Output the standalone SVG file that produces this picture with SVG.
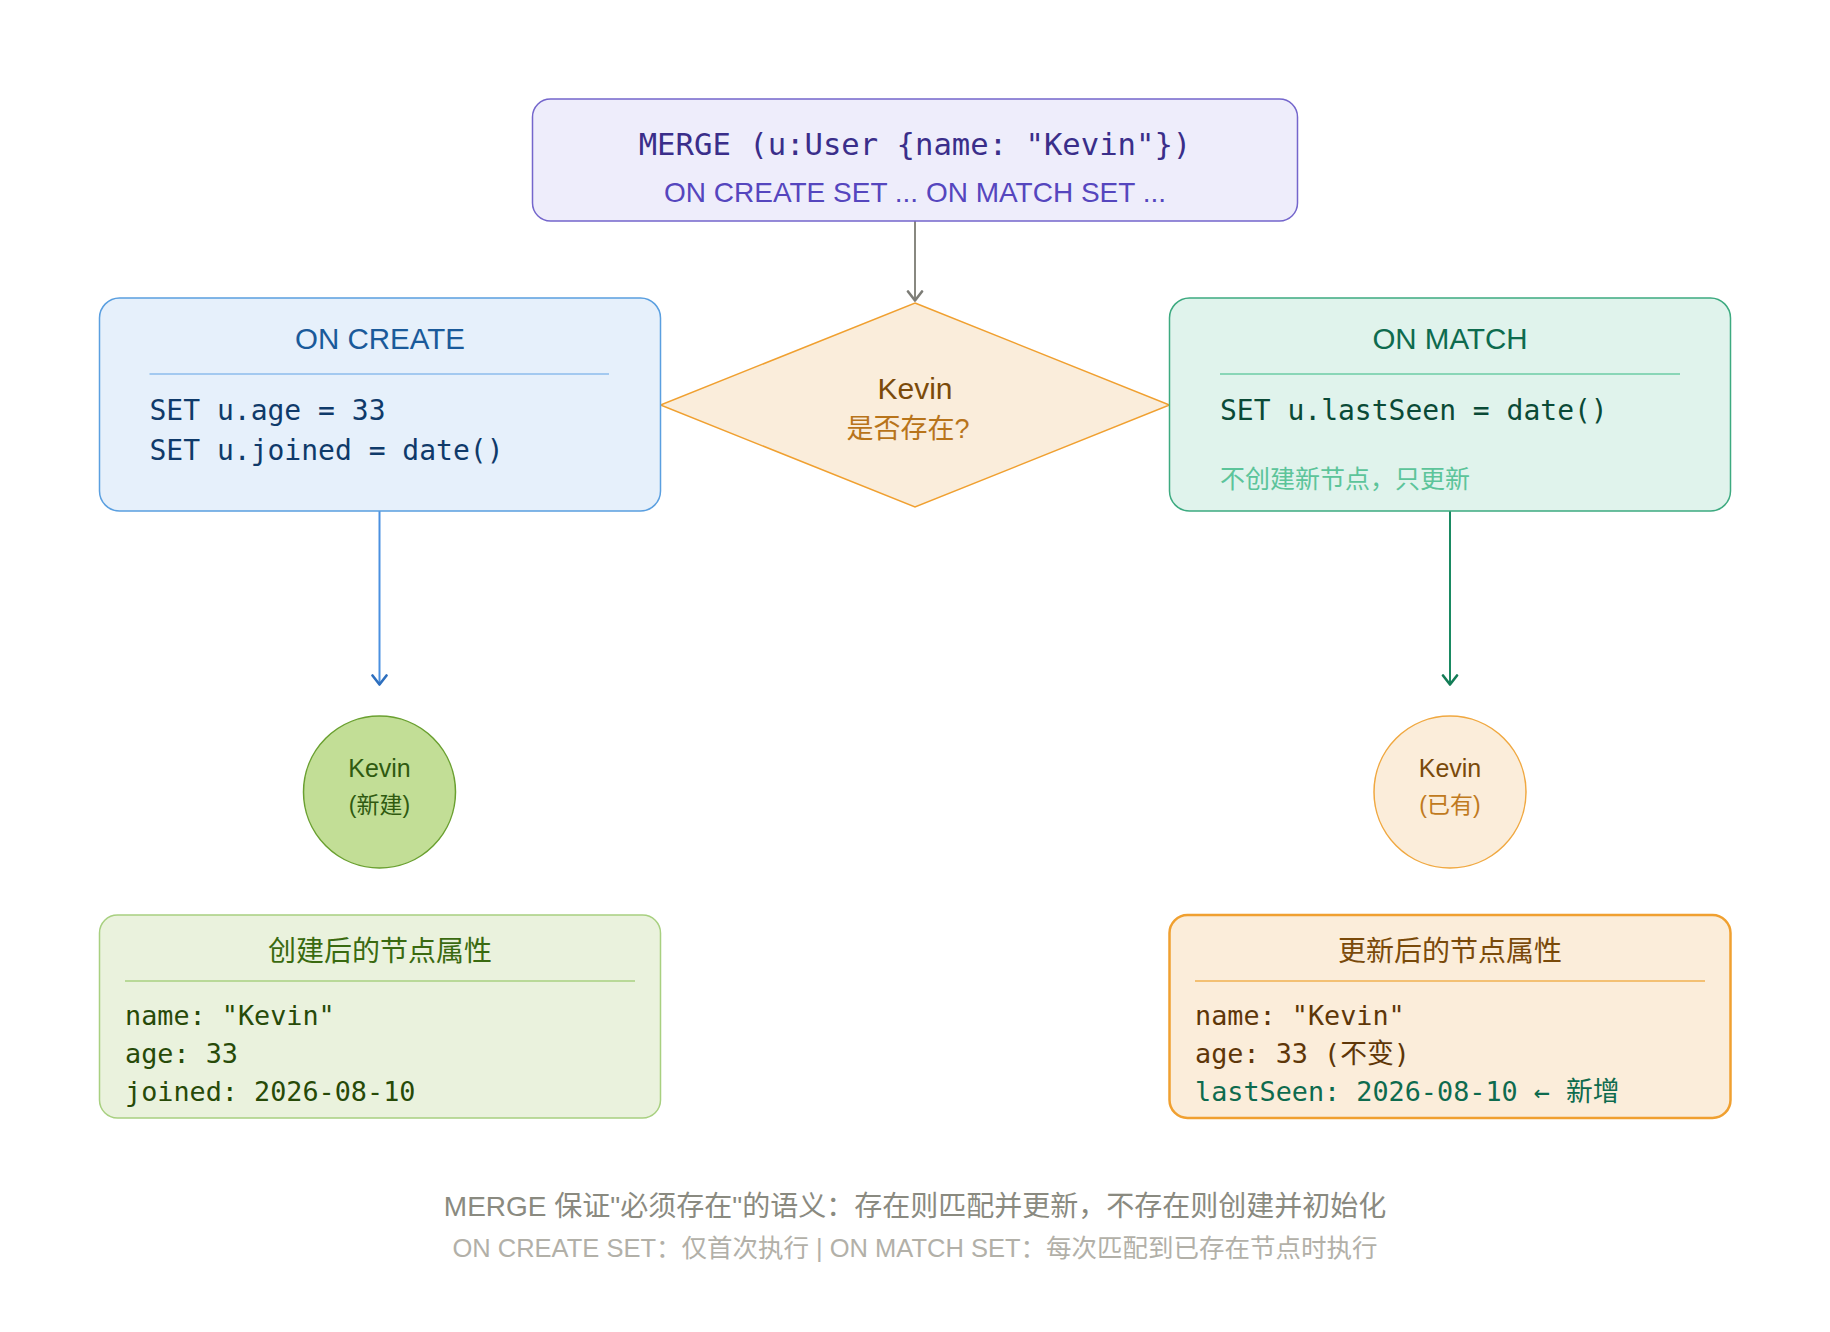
<svg xmlns="http://www.w3.org/2000/svg" width="1830" height="1332" viewBox="0 0 1830 1332">
<style>
.sans{font-family:"Liberation Sans","Noto Sans CJK SC",sans-serif;}
.mono{font-family:"DejaVu Sans Mono","Noto Sans CJK SC",monospace;}
text{dominant-baseline:central;}
.c{text-anchor:middle;}
</style>
<defs>
<marker id="ag" viewBox="0 0 18 14" refX="9" refY="11.5" markerWidth="18" markerHeight="14" markerUnits="userSpaceOnUse">
<path d="M2,2 L9,11 L16,2" fill="none" stroke="#7C7C76" stroke-width="2.6" stroke-linecap="round" stroke-linejoin="round"/>
</marker>
<marker id="ab" viewBox="0 0 18 14" refX="9" refY="11.5" markerWidth="18" markerHeight="14" markerUnits="userSpaceOnUse">
<path d="M2,2 L9,11 L16,2" fill="none" stroke="#2E6FBE" stroke-width="2.6" stroke-linecap="round" stroke-linejoin="round"/>
</marker>
<marker id="at" viewBox="0 0 18 14" refX="9" refY="11.5" markerWidth="18" markerHeight="14" markerUnits="userSpaceOnUse">
<path d="M2,2 L9,11 L16,2" fill="none" stroke="#137C56" stroke-width="2.6" stroke-linecap="round" stroke-linejoin="round"/>
</marker>
</defs>
<rect width="1830" height="1332" fill="#ffffff"/>

<g id="connectors" fill="none" stroke-width="2">
<line x1="915" y1="221" x2="915" y2="301" stroke="#888880" marker-end="url(#ag)"/>
<line x1="379.5" y1="511" x2="379.5" y2="685" stroke="#4A90E0" marker-end="url(#ab)"/>
<line x1="1450" y1="511" x2="1450" y2="685" stroke="#1A8A62" marker-end="url(#at)"/>
</g>

<g id="merge">
<rect x="532.5" y="99" width="765" height="122" rx="18" fill="#EEEDFB" stroke="#7466CC" stroke-width="1.5"/>
<text x="915" y="144" class="mono c" font-size="30.6" fill="#3A2E8A">MERGE (u:User {name: "Kevin"})</text>
<text x="915" y="192" class="sans c" font-size="28" fill="#5546BE">ON CREATE SET ... ON MATCH SET ...</text>
</g>

<g id="decision">
<polygon points="915,303 1169.5,405 915,507 660.5,405" fill="#FAEDDB" stroke="#F0A030" stroke-width="1.5"/>
<text x="915" y="388" class="sans c" font-size="30" fill="#7A4A0A">Kevin</text>
<text x="908" y="429" class="sans c" font-size="27" fill="#B8741A">是否存在?</text>
</g>

<g id="on-create">
<rect x="99.5" y="298" width="561" height="213" rx="20" fill="#E6F0FB" stroke="#5A9FE0" stroke-width="1.5"/>
<text x="380" y="338.5" class="sans c" font-size="29.5" fill="#1A5A9A">ON CREATE</text>
<line x1="149.5" y1="374" x2="609" y2="374" stroke="#8CBCEC" stroke-width="1.5"/>
<text x="149.5" y="410" class="mono" font-size="28" fill="#0F3A6A">SET u.age = 33</text>
<text x="149.5" y="450.5" class="mono" font-size="28" fill="#0F3A6A">SET u.joined = date()</text>
</g>

<g id="on-match">
<rect x="1169.5" y="298" width="561" height="213" rx="20" fill="#E0F3EC" stroke="#3DAA80" stroke-width="1.5"/>
<text x="1450" y="338.5" class="sans c" font-size="29.5" fill="#0E6B4E">ON MATCH</text>
<line x1="1220" y1="374" x2="1680" y2="374" stroke="#6CCCA6" stroke-width="1.5"/>
<text x="1220" y="410" class="mono" font-size="28" fill="#0A4A36">SET u.lastSeen = date()</text>
<text x="1220" y="478.5" class="sans" font-size="25" fill="#5CC49A">不创建新节点，只更新</text>
</g>

<g id="node-new">
<circle cx="379.5" cy="792" r="76" fill="#C2DE96" stroke="#6AA030" stroke-width="1.5"/>
<text x="379.5" y="768" class="sans c" font-size="25" fill="#2F5A10">Kevin</text>
<text x="379.5" y="805" class="sans c" font-size="23" fill="#2F5A10">(新建)</text>
</g>

<g id="node-existing">
<circle cx="1450" cy="792" r="76" fill="#FBEDDA" stroke="#F0A840" stroke-width="1.5"/>
<text x="1450" y="768" class="sans c" font-size="25" fill="#7A4A0A">Kevin</text>
<text x="1450" y="805" class="sans c" font-size="23" fill="#C07A20">(已有)</text>
</g>

<g id="props-created">
<rect x="99.5" y="915" width="561" height="203" rx="18" fill="#EAF2DD" stroke="#A8D080" stroke-width="1.5"/>
<text x="380" y="951" class="sans c" font-size="28" fill="#3A6A10">创建后的节点属性</text>
<line x1="125" y1="981" x2="635" y2="981" stroke="#A8D080" stroke-width="1.5"/>
<text x="125" y="1015" class="mono" font-size="26.8" fill="#274A08">name: "Kevin"</text>
<text x="125" y="1053" class="mono" font-size="26.8" fill="#274A08">age: 33</text>
<text x="125" y="1091" class="mono" font-size="26.8" fill="#274A08">joined: 2026-08-10</text>
</g>

<g id="props-updated">
<rect x="1169.5" y="915" width="561" height="203" rx="18" fill="#FBEDDA" stroke="#F0A030" stroke-width="2.5"/>
<text x="1450" y="951" class="sans c" font-size="28" fill="#7A4A0A">更新后的节点属性</text>
<line x1="1195" y1="981" x2="1705" y2="981" stroke="#F0B050" stroke-width="1.5"/>
<text x="1195" y="1015" class="mono" font-size="26.8" fill="#5E3608">name: "Kevin"</text>
<text x="1195" y="1053" class="mono" font-size="26.8" fill="#5E3608">age: 33 (不变)</text>
<text x="1195" y="1091" class="mono" font-size="26.8" fill="#0E6B4E">lastSeen: 2026-08-10 ← 新增</text>
</g>

<g id="footer">
<text x="915" y="1206" class="sans c" font-size="28" fill="#8A8A80">MERGE 保证"必须存在"的语义：存在则匹配并更新，不存在则创建并初始化</text>
<text x="915" y="1248" class="sans c" font-size="25.5" fill="#B2B0A8">ON CREATE SET：仅首次执行 | ON MATCH SET：每次匹配到已存在节点时执行</text>
</g>
</svg>
